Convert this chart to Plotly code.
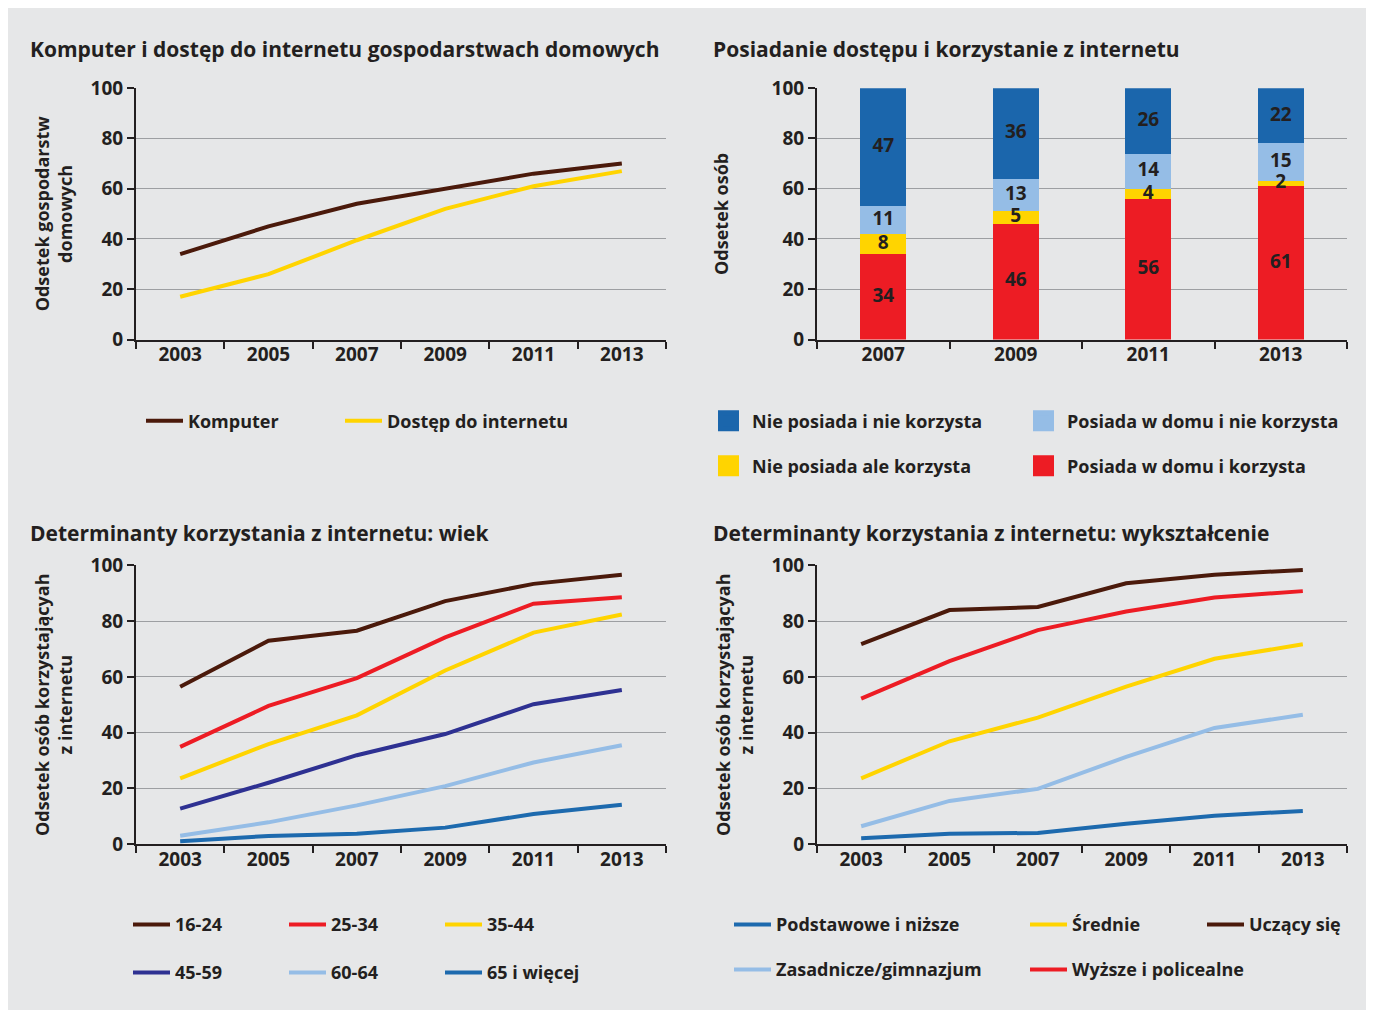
import plotly.graph_objects as go

# Page is shown with an 8px body margin; reference coordinates are page pixels.
OX, OY = 8, 8
W, H = 1360, 1002
def px(x): return (x - OX) / W
def py(y): return 1 - (y - OY) / H

# ---------------- data ----------------
years6 = ["2003", "2005", "2007", "2009", "2011", "2013"]
komputer = [34, 45, 54, 60, 66, 70]
dostep = [17, 26, 39.5, 52, 61, 67]

years4 = ["2007", "2009", "2011", "2013"]
posiada_korzysta = [34, 46, 56, 61]
nie_posiada_korzysta = [8, 5, 4, 2]
posiada_nie_korzysta = [11, 13, 14, 15]
nie_posiada_nie_korzysta = [47, 36, 26, 22]

wiek_16_24 = [56.5, 73, 76.6, 87.2, 93.4, 96.7]
wiek_25_34 = [34.9, 49.6, 59.6, 74.2, 86.3, 88.6]
wiek_35_44 = [23.6, 35.9, 46.2, 62.3, 75.9, 82.4]
wiek_45_59 = [12.7, 22, 31.9, 39.5, 50.2, 55.3]
wiek_60_64 = [3, 7.8, 13.9, 20.8, 29.3, 35.5]
wiek_65 = [1, 2.9, 3.7, 5.9, 10.8, 14.1]

podstawowe = [2.1, 3.7, 4, 7.3, 10.2, 11.9]
zasadnicze = [6.4, 15.5, 19.8, 31.3, 41.7, 46.4]
srednie = [23.6, 36.9, 45.4, 56.5, 66.5, 71.7]
wyzsze = [52.2, 65.7, 76.8, 83.5, 88.5, 90.8]
uczacy = [71.8, 84, 85.1, 93.6, 96.7, 98.4]

# ---------------- style ----------------
FONT = "Open Sans"
TXT = "#231f20"
BG = "#e6e7e8"
GRID = "#9d9fa2"
BROWN = "#4b1a0b"
YELLOW = "#ffd400"
RED = "#ed1c24"
NAVY = "#2e3192"
LBLUE = "#95bde6"
BLUE = "#1d6aae"
BAR_DBLUE = "#1b66ac"

fig = go.Figure()

def line(x, y, name, color, xa, ya, legend):
    fig.add_trace(go.Scatter(
        x=x, y=y, name=name, mode="lines",
        line=dict(color=color, width=4),
        xaxis=xa, yaxis=ya, legend=legend, legendgroup=name,
        hoverinfo="skip"))

# panel 1
line(years6, komputer, "Komputer", BROWN, "x", "y", "legend")
line(years6, dostep, "Dostęp do internetu", YELLOW, "x", "y", "legend2")

# panel 2 - stacked bars
bar_series = [
    (posiada_korzysta, "Posiada w domu i korzysta", RED),
    (nie_posiada_korzysta, "Nie posiada ale korzysta", YELLOW),
    (posiada_nie_korzysta, "Posiada w domu i nie korzysta", LBLUE),
    (nie_posiada_nie_korzysta, "Nie posiada i nie korzysta", BAR_DBLUE),
]
for vals, name, color in bar_series:
    fig.add_trace(go.Bar(
        x=years4, y=vals, name=name, marker=dict(color=color, line=dict(width=0)),
        width=0.35, xaxis="x2", yaxis="y2", showlegend=False, hoverinfo="skip"))

# value labels, centred in each stacked segment (drawn above all bars)
base = [0] * len(years4)
for vals, name, color in bar_series:
    mids = [b + v / 2 for b, v in zip(base, vals)]
    fig.add_trace(go.Scatter(
        x=years4, y=mids, mode="text", text=[str(v) for v in vals],
        textposition="middle center",
        textfont=dict(family=FONT, size=19, color=TXT, weight=700),
        xaxis="x2", yaxis="y2", showlegend=False, hoverinfo="skip"))
    base = [b + v for b, v in zip(base, vals)]

legend_sq = [
    ("Nie posiada i nie korzysta", BAR_DBLUE, "legend3"),
    ("Nie posiada ale korzysta", YELLOW, "legend3"),
    ("Posiada w domu i nie korzysta", LBLUE, "legend4"),
    ("Posiada w domu i korzysta", RED, "legend4"),
]
for name, color, lg in legend_sq:
    fig.add_trace(go.Scatter(
        x=[None], y=[None], name=name, mode="markers",
        marker=dict(symbol="square", size=16, color=color, line=dict(color=color, width=5)),
        xaxis="x2", yaxis="y2", legend=lg, legendgroup=name))

# panel 3
line(years6, wiek_16_24, "16-24", BROWN, "x3", "y3", "legend5")
line(years6, wiek_45_59, "45-59", NAVY, "x3", "y3", "legend5")
line(years6, wiek_25_34, "25-34", RED, "x3", "y3", "legend6")
line(years6, wiek_60_64, "60-64", LBLUE, "x3", "y3", "legend6")
line(years6, wiek_35_44, "35-44", YELLOW, "x3", "y3", "legend7")
line(years6, wiek_65, "65 i więcej", BLUE, "x3", "y3", "legend7")

# panel 4
line(years6, podstawowe, "Podstawowe i niższe", BLUE, "x4", "y4", "legend8")
line(years6, zasadnicze, "Zasadnicze/gimnazjum", LBLUE, "x4", "y4", "legend8")
line(years6, srednie, "Średnie", YELLOW, "x4", "y4", "legend9")
line(years6, wyzsze, "Wyższe i policealne", RED, "x4", "y4", "legend9")
line(years6, uczacy, "Uczący się", BROWN, "x4", "y4", "legend10")

# ---------------- axes ----------------
XL, XR = (136, 666), (817, 1347)
YT, YB = (77, 335), (567, 853)
TICKFONT = dict(family=FONT, size=19, color=TXT, weight=700)

def xaxis(dom, n, anchor):
    return dict(domain=[px(dom[0]), px(dom[1])], type="category", range=[-0.5, n - 0.5],
                anchor=anchor, showline=True, linecolor=TXT, linewidth=2, ticks="outside",
                tickson="boundaries", ticklen=7, tickwidth=2, tickcolor=TXT,
                ticklabelstandoff=-3,
                showgrid=False, zeroline=False, fixedrange=True, tickfont=TICKFONT)

def yaxis(dom, anchor, title, standoff):
    return dict(domain=[py(dom[1]), py(dom[0])], range=[0, 100], anchor=anchor,
                tickvals=[0, 20, 40, 60, 80, 100],
                showline=True, linecolor=TXT, linewidth=2, ticks="outside",
                ticklen=7, tickwidth=2, tickcolor=TXT,
                showgrid=True, gridcolor=GRID, gridwidth=1, zeroline=False,
                fixedrange=True, tickfont=TICKFONT,
                title=dict(text=title, standoff=standoff,
                           font=dict(family=FONT, size=18, color=TXT, weight=700)))

fig.update_layout(
    xaxis=xaxis(XL, 6, "y"),
    yaxis=yaxis(YT, "x", "Odsetek gospodarstw<br>domowych", 13),
    xaxis2=xaxis(XR, 4, "y2"),
    yaxis2=yaxis(YT, "x2", "Odsetek osób", 38),
    xaxis3=xaxis(XL, 6, "y3"),
    yaxis3=yaxis(YB, "x3", "Odsetek osób korzystającyah<br>z internetu", 13),
    xaxis4=xaxis(XR, 6, "y4"),
    yaxis4=yaxis(YB, "x4", "Odsetek osób korzystającyah<br>z internetu", 13),
)

# ---------------- legends ----------------
ITEMW = 37
LFS = 18
ITEM_H = LFS * 1.3 + 3

def legend(x_text, y_first, row_step):
    return dict(x=px(x_text - (ITEMW + 10)), y=py(y_first - (5 + ITEM_H / 2)),
                xanchor="left", yanchor="top",
                orientation="v", bgcolor="rgba(0,0,0,0)", borderwidth=0,
                traceorder="grouped", tracegroupgap=row_step - ITEM_H, itemwidth=ITEMW,
                font=dict(family=FONT, size=LFS, color=TXT, weight=700))

fig.update_layout(
    legend=legend(188, 418, 45),
    legend2=legend(387, 418, 45),
    legend3=legend(752, 418, 45),
    legend4=legend(1067, 418, 45),
    legend5=legend(175, 935, 48),
    legend6=legend(331, 935, 48),
    legend7=legend(487, 935, 48),
    legend8=legend(776, 935, 45),
    legend9=legend(1072, 935, 45),
    legend10=legend(1249, 935, 45),
)

# ---------------- titles ----------------
titles = [
    ("Komputer i dostęp do internetu gospodarstwach domowych", 28, 37),
    ("Posiadanie dostępu i korzystanie z internetu", 711, 37),
    ("Determinanty korzystania z internetu: wiek", 28, 534),
    ("Determinanty korzystania z internetu: wykształcenie", 711, 534),
]
for t, x, y in titles:
    fig.add_annotation(text=t, x=px(x), y=py(y), xref="paper", yref="paper",
                       xanchor="left", yanchor="middle", showarrow=False,
                       font=dict(family=FONT, size=21, color=TXT, weight=700))

fig.update_layout(
    width=W, height=H, margin=dict(l=0, r=0, t=0, b=0),
    paper_bgcolor=BG, plot_bgcolor="rgba(0,0,0,0)",
    barmode="stack", showlegend=True,
    font=dict(family=FONT, size=19, color=TXT),
)

fig.write_html("out.html")
